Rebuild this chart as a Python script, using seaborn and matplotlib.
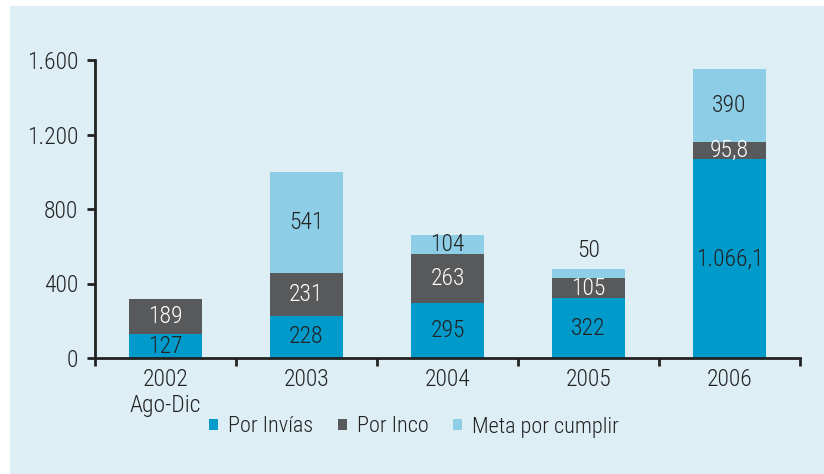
import pandas as pd
import seaborn as sns
import matplotlib.pyplot as plt
from matplotlib.patches import Rectangle
from matplotlib import font_manager

# Data
years = ['2002\nAgo-Dic', '2003', '2004', '2005', '2006']
por_invias = [127, 228, 295, 322, 1066.1]
por_inco = [189, 231, 263, 105, 95.8]
meta = [0, 541, 104, 50, 390]
series_names = ['Por Invías', 'Por Inco', 'Meta por cumplir']
colors = ['#009acb', '#58595b', '#8dcde5']
bg = '#deeef5'

sns.set_theme(style='white')
installed = {f.name for f in font_manager.fontManager.ttflist}
wanted = ['Roboto Condensed', 'Archivo Narrow', 'PT Sans Narrow', 'Asap Condensed',
          'Liberation Sans Narrow', 'DejaVu Sans Condensed']
family = [f for f in wanted if f in installed] + ['DejaVu Sans']
plt.rcParams['font.family'] = family
plt.rcParams['font.weight'] = 'light'


def fmt(v):
    # Spanish number format: "." thousands, "," decimals
    if float(v).is_integer():
        s = f'{int(v):,}'.replace(',', '.')
    else:
        s = f'{v:,.1f}'.replace(',', 'X').replace('.', ',').replace('X', '.')
    return s


df = pd.DataFrame({'year': years, 'invias': por_invias, 'inco': por_inco, 'meta': meta})
df['c1'] = df['invias']
df['c2'] = df['invias'] + df['inco']
df['c3'] = df['c2'] + df['meta']

fig = plt.figure(figsize=(8.24, 4.74), dpi=100)
fig.patch.set_facecolor('white')
fig.patches.append(Rectangle((10 / 824, 0), 1, 1 - 6 / 474, transform=fig.transFigure,
                             facecolor=bg, edgecolor='none', zorder=-10))
ax = fig.add_axes([95 / 824, (474 - 358) / 474, (800 - 95) / 824, 298 / 474])
ax.set_facecolor(bg)

# stacked bars drawn as overlapping cumulative totals
for col, c in zip(['c3', 'c2', 'c1'], colors[::-1]):
    sns.barplot(data=df, x='year', y=col, color=c, width=0.52, ax=ax,
                saturation=1, edgecolor='none', linewidth=0)

fs = 17
txt = dict(ha='center', va='center', fontsize=fs)
for i in range(len(years)):
    ax.text(i, df['c1'][i] / 2, fmt(por_invias[i]), color='#222222', **txt)
    ax.text(i, df['c1'][i] + por_inco[i] / 2, fmt(por_inco[i]), color='white', **txt)
    if meta[i] > 0:
        y = df['c2'][i] + meta[i] / 2
        if meta[i] < 80:
            y = df['c3'][i] + 100
        ax.text(i, y, fmt(meta[i]), color='#222222', **txt)

ax.set_xlim(-0.5, 4.5)
ax.set_ylim(0, 1600)
ax.set_yticks([0, 400, 800, 1200, 1600])
ax.set_yticklabels([fmt(v) for v in [0, 400, 800, 1200, 1600]])
ax.set_xticks(range(len(years)))
ax.set_xticklabels(years)
ax.set_xticks([i - 0.5 for i in range(len(years) + 1)], minor=True)
ax.set_xlabel('')
ax.set_ylabel('')
for s in ['top', 'right']:
    ax.spines[s].set_visible(False)
for s in ['left', 'bottom']:
    ax.spines[s].set_color('#222222')
    ax.spines[s].set_linewidth(2)
ax.tick_params(axis='y', left=True, length=6, width=2, color='#222222',
               labelsize=fs, labelcolor='#222222', pad=6)
ax.tick_params(axis='x', which='major', bottom=False, labelsize=fs,
               labelcolor='#222222', pad=1)
ax.tick_params(axis='x', which='minor', bottom=True, length=6, width=2, color='#222222')

handles = [Rectangle((0, 0), 1, 1, facecolor=c, edgecolor='none') for c in colors]
fig.legend(handles, series_names, loc='center', bbox_to_anchor=(414 / 824, 1 - 427 / 474),
           ncol=3, frameon=False, fontsize=16, handlelength=0.4, handleheight=0.4,
           handletextpad=0.45, columnspacing=1.1, labelcolor='#222222')

fig.savefig('out.png', dpi=100, facecolor=fig.get_facecolor())
